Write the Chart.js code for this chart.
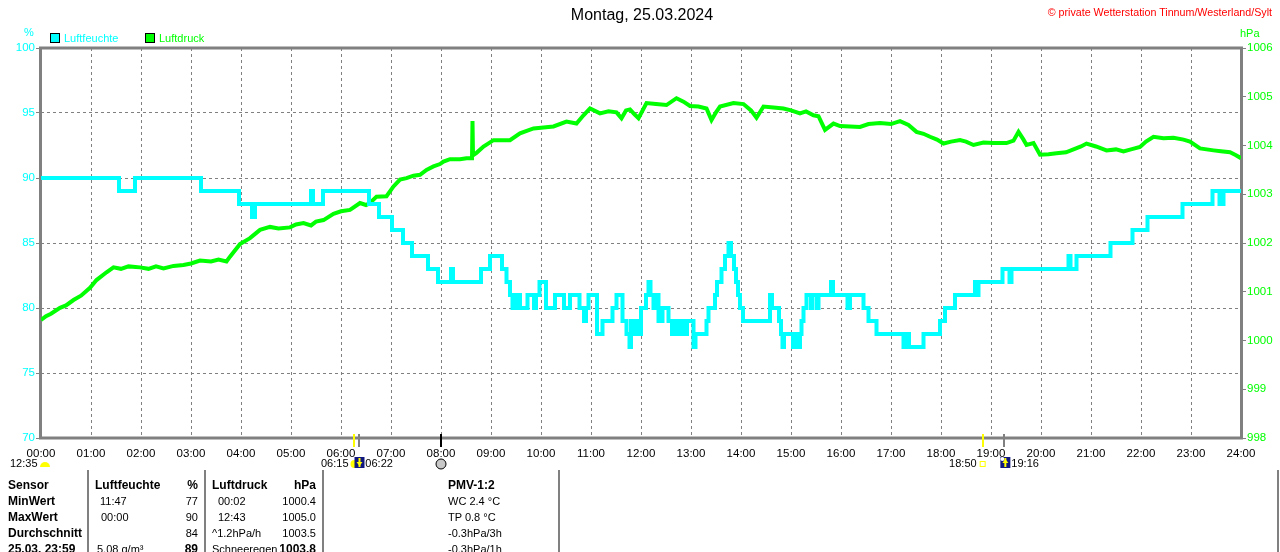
<!DOCTYPE html>
<html lang="de">
<head>
<meta charset="utf-8">
<title>Luftfeuchte / Luftdruck 25.03.2024</title>
<script src="https://cdn.jsdelivr.net/npm/chart.js@4.4.1/dist/chart.umd.min.js"></script>
<style>
    html, body { margin: 0; padding: 0; background: #fff; }
    body { width: 1280px; height: 552px; position: relative; overflow: hidden;
           font-family: "Liberation Sans", Arial, sans-serif; font-size: 11px; color: #000; }
    #chart { position: absolute; left: 0; top: 0; }
    .t { position: absolute; white-space: nowrap; line-height: 14px; }
    .b { font-weight: bold; font-size: 12px; }
    .box { position: absolute; width: 8px; height: 8px; border: 1px solid #000; }
    .vl { position: absolute; width: 2px; background: #808080; top: 470px; height: 82px; }
</style>
</head>
<body>
<canvas id="chart" width="1280" height="552"></canvas>

<!-- Kopfzeile -->
<div class="t" style="left:0;width:1284px;text-align:center;top:6px;font-size:16px;line-height:18px;">Montag, 25.03.2024</div>
<div class="t" style="right:8px;top:5px;color:#ff0000;font-size:10.7px;">© private Wetterstation Tinnum/Westerland/Sylt</div>
<div class="t" style="left:24px;top:25px;color:#00ffff;">%</div>
<div class="t" style="left:1240px;top:26px;color:#00ff00;">hPa</div>
<div class="box" style="left:50px;top:33px;background:#00ffff;"></div>
<div class="t" style="left:64px;top:31px;color:#00ffff;">Luftfeuchte</div>
<div class="box" style="left:145px;top:33px;background:#00ff00;"></div>
<div class="t" style="left:159px;top:31px;color:#00ff00;">Luftdruck</div>

<!-- Tabelle -->
<div class="vl" style="left:87px;"></div>
<div class="vl" style="left:204px;"></div>
<div class="vl" style="left:322px;"></div>
<div class="vl" style="left:558px;"></div>
<div class="vl" style="left:1277px;"></div>
<div id="table"></div>

<script>
// Zeitachse (Stunden) und Beschriftung
const hourTicks = Array.from({ length: 25 }, (_, i) => i);
const hourLabels = hourTicks.map(h => String(h).padStart(2, '0') + ':00');

// Luftfeuchte in % (Zeitpunkt der Änderung in Stunden, neuer Wert)
const humTime = [0, 1.56, 1.88, 3.2, 3.96, 4.22, 4.28, 5.40, 5.44, 5.64, 6.56, 6.76, 7.02, 7.24, 7.42, 7.74, 7.94,
    8.20, 8.24, 8.80, 8.98, 9.22, 9.31, 9.38, 9.43, 9.50, 9.58, 9.73, 9.86, 9.90, 9.97, 10.10, 10.28, 10.46,
    10.58, 10.77, 10.86, 10.90, 10.95, 11.12, 11.23, 11.43, 11.51, 11.63, 11.71, 11.77, 11.80, 11.86, 11.91,
    11.96, 12.00, 12.10, 12.15, 12.19, 12.25, 12.33, 12.35, 12.43, 12.55, 12.62, 12.68, 12.74, 12.80, 12.86,
    12.92, 13.05, 13.09, 13.31, 13.35, 13.48, 13.52, 13.61, 13.68, 13.75, 13.80, 13.86, 13.90, 13.94, 13.98,
    14.04, 14.58, 14.62, 14.76, 14.80, 14.83, 14.86, 15.04, 15.08, 15.12, 15.18, 15.21, 15.25, 15.31, 15.40,
    15.43, 15.52, 15.55, 15.80, 15.84, 16.13, 16.18, 16.45, 16.55, 16.71, 17.25, 17.32, 17.36, 17.65, 17.98,
    18.08, 18.28, 18.68, 18.72, 18.75, 19.23, 19.37, 19.41, 20.55, 20.59, 20.71, 21.39, 21.83, 22.13, 22.83,
    23.43, 23.57, 23.65, 24.0];
const humValue = [90, 89, 90, 89, 88, 87, 88, 89, 88, 89, 88, 87, 86, 85, 84, 83, 82,
    83, 82, 83, 84, 83, 82, 81, 80, 81, 80, 81, 80, 81, 82, 80, 81, 80,
    81, 80, 79, 80, 81, 78, 79, 80, 81, 79, 78, 77, 79, 78, 79,
    78, 80, 81, 82, 81, 80, 81, 79, 80, 79, 78, 79, 78, 79, 78,
    79, 77, 78, 79, 80, 81, 82, 83, 84, 85, 84, 83, 82, 81, 80,
    79, 81, 80, 79, 78, 77, 78, 77, 78, 77, 78, 79, 80, 81, 80,
    81, 80, 81, 82, 81, 80, 81, 80, 79, 78, 77, 78, 77, 78, 79,
    80, 81, 82, 81, 82, 83, 82, 83, 84, 83, 84, 85, 86, 87, 88,
    89, 88, 89, 89];

// Luftdruck in hPa
const presTime = [0.00, 0.10, 0.20, 0.38, 0.50, 0.65, 0.80, 0.98, 1.11, 1.31, 1.45, 1.60, 1.75, 1.98, 2.15, 2.30,
    2.45, 2.65, 2.85, 3.00, 3.18, 3.40, 3.55, 3.71, 3.78, 3.98, 4.18, 4.38, 4.58, 4.75, 4.98, 5.10, 5.25, 5.40,
    5.50, 5.65, 5.85, 6.00, 6.18, 6.38, 6.50, 6.58, 6.71, 6.91, 7.05, 7.18, 7.31, 7.45, 7.58, 7.71, 7.85, 7.98,
    8.05, 8.18, 8.38, 8.51, 8.62, 8.63, 8.64, 8.71, 8.85, 9.05, 9.38, 9.58, 9.85, 10.05, 10.25, 10.51, 10.71,
    10.85, 10.98, 11.18, 11.35, 11.51, 11.61, 11.70, 11.78, 11.87, 11.95, 12.11, 12.30, 12.51, 12.71, 12.85,
    12.98, 13.15, 13.31, 13.41, 13.50, 13.58, 13.85, 14.05, 14.20, 14.31, 14.45, 14.65, 14.85, 15.00, 15.18,
    15.30, 15.45, 15.55, 15.68, 15.85, 15.98, 16.18, 16.38, 16.55, 16.78, 17.00, 17.18, 17.35, 17.51, 17.65,
    17.78, 17.92, 18.05, 18.20, 18.38, 18.50, 18.65, 18.85, 19.05, 19.31, 19.45, 19.55, 19.65, 19.71, 19.85,
    19.98, 20.15, 20.31, 20.50, 20.65, 20.80, 20.91, 21.10, 21.31, 21.50, 21.65, 21.80, 21.98, 22.10, 22.25,
    22.45, 22.65, 22.85, 22.98, 23.18, 23.45, 23.60, 23.78, 23.90, 24.00];
const presValue = [1000.42, 1000.50, 1000.55, 1000.67, 1000.72, 1000.83, 1000.92, 1001.08, 1001.24, 1001.40,
    1001.50, 1001.47, 1001.52, 1001.50, 1001.47, 1001.52, 1001.48, 1001.53, 1001.55, 1001.58, 1001.64, 1001.62,
    1001.66, 1001.62, 1001.72, 1001.98, 1002.10, 1002.27, 1002.33, 1002.30, 1002.32, 1002.38, 1002.41, 1002.36,
    1002.44, 1002.47, 1002.60, 1002.65, 1002.68, 1002.82, 1002.78, 1002.82, 1002.95, 1002.96, 1003.16, 1003.30,
    1003.33, 1003.38, 1003.40, 1003.50, 1003.57, 1003.62, 1003.67, 1003.72, 1003.72, 1003.74, 1003.74, 1004.50,
    1003.80, 1003.85, 1003.98, 1004.11, 1004.11, 1004.25, 1004.35, 1004.37, 1004.39, 1004.49, 1004.45, 1004.62,
    1004.76, 1004.66, 1004.70, 1004.68, 1004.56, 1004.72, 1004.74, 1004.64, 1004.56, 1004.87, 1004.85, 1004.83,
    1004.97, 1004.90, 1004.81, 1004.80, 1004.76, 1004.52, 1004.68, 1004.80, 1004.87, 1004.85, 1004.72, 1004.57,
    1004.80, 1004.78, 1004.76, 1004.72, 1004.66, 1004.70, 1004.62, 1004.60, 1004.32, 1004.45, 1004.40, 1004.39,
    1004.38, 1004.44, 1004.46, 1004.44, 1004.50, 1004.42, 1004.28, 1004.24, 1004.18, 1004.12, 1004.04, 1004.08,
    1004.11, 1004.08, 1004.01, 1004.06, 1004.05, 1004.05, 1004.10, 1004.28, 1004.12, 1004.01, 1004.05, 1003.81,
    1003.82, 1003.84, 1003.86, 1003.92, 1003.98, 1004.04, 1003.98, 1003.90, 1003.92, 1003.88, 1003.92, 1003.97,
    1004.08, 1004.18, 1004.15, 1004.16, 1004.12, 1004.08, 1003.94, 1003.90, 1003.88, 1003.86, 1003.80, 1003.74];

// Sonne / Mond Zeiten (Stunden) und Beschriftungen
const astroTime = [6.25, 6.367, 8.0, 18.833, 19.267];
const astroLabel = ['06:15', '06:22', '', '18:50', '19:16'];
const moonLabel = '12:35';

// Tabelle unten: [Text, x, Zeile, rechtsbündig, fett]
const tableCells = [
    ['Sensor', 8, 0, false, true], ['MinWert', 8, 1, false, true], ['MaxWert', 8, 2, false, true],
    ['Durchschnitt', 8, 3, false, true], ['25.03. 23:59', 8, 4, false, true],
    ['Luftfeuchte', 95, 0, false, true], ['%', 198, 0, true, true],
    ['11:47', 100, 1, false, false], ['77', 198, 1, true, false],
    ['00:00', 101, 2, false, false], ['90', 198, 2, true, false],
    ['84', 198, 3, true, false],
    ['5.08 g/m³', 97, 4, false, false], ['89', 198, 4, true, true],
    ['Luftdruck', 212, 0, false, true], ['hPa', 316, 0, true, true],
    ['00:02', 218, 1, false, false], ['1000.4', 316, 1, true, false],
    ['12:43', 218, 2, false, false], ['1005.0', 316, 2, true, false],
    ['^1.2hPa/h', 212, 3, false, false], ['1003.5', 316, 3, true, false],
    ['Schneeregen', 212, 4, false, false], ['1003.8', 316, 4, true, true],
    ['PMV-1:2', 448, 0, false, true], ['WC 2.4 °C', 448, 1, false, false],
    ['TP 0.8 °C', 448, 2, false, false], ['-0.3hPa/3h', 448, 3, false, false],
    ['-0.3hPa/1h', 448, 4, false, false]
];
const rowCenter = [485, 501, 517, 533, 549];

function buildTable() {
    const host = document.getElementById('table');
    tableCells.forEach(([text, x, row, right, bold]) => {
        const d = document.createElement('div');
        d.className = 't' + (bold ? ' b' : '');
        d.textContent = text;
        d.style.top = (rowCenter[row] - 7) + 'px';
        if (right) d.style.right = (1280 - x) + 'px';
        else d.style.left = x + 'px';
        host.appendChild(d);
    });
}

// Rahmen um die Zeichenfläche
const framePlugin = {
    id: 'frame',
    beforeDatasetsDraw(chart) {
        const { ctx, chartArea: a } = chart;
        ctx.save();
        ctx.strokeStyle = '#808080';
        ctx.lineWidth = 3;
        ctx.strokeRect(a.left - 0.5, a.top, a.right - a.left + 1, a.bottom - a.top);
        ctx.restore();
    }
};

function nightSquare(ctx, x, y, up, dot) {
    ctx.fillStyle = '#101880';
    ctx.fillRect(x, y, 10, 11);
    if (dot) {
        ctx.fillStyle = '#ffffff';
        ctx.beginPath(); ctx.arc(x + 2, y + 2, 2, 0, Math.PI * 2); ctx.fill();
    }
    ctx.strokeStyle = '#ffff00';
    ctx.fillStyle = '#ffff00';
    ctx.lineWidth = 2;
    ctx.beginPath(); ctx.moveTo(x + 5, y + 1); ctx.lineTo(x + 5, y + 10); ctx.stroke();
    ctx.beginPath();
    if (up) { ctx.moveTo(x + 2, y + 6); ctx.lineTo(x + 8, y + 6); ctx.lineTo(x + 5, y + 2); }
    else { ctx.moveTo(x + 2, y + 5); ctx.lineTo(x + 8, y + 5); ctx.lineTo(x + 5, y + 9); }
    ctx.fill();
}

// Sonnen- und Mondmarken unter der Zeitachse
const astroPlugin = {
    id: 'astro',
    afterDraw(chart) {
        const { ctx } = chart;
        const xs = chart.scales.x;
        const px = astroTime.map(t => xs.getPixelForValue(t));
        const colors = ['#ffff00', '#808080', '#000000', '#ffff00', '#808080'];
        ctx.save();
        px.forEach((x, i) => {
            ctx.strokeStyle = colors[i];
            ctx.lineWidth = 2;
            ctx.beginPath(); ctx.moveTo(Math.round(x), 434); ctx.lineTo(Math.round(x), 447); ctx.stroke();
        });

        ctx.font = '11px "Liberation Sans", Arial, sans-serif';
        ctx.fillStyle = '#000';
        ctx.textBaseline = 'middle';
        ctx.textAlign = 'left';
        ctx.fillText(moonLabel, 10, 464);
        ctx.fillText(astroLabel[1], px[1] + 6, 464);
        ctx.fillText(astroLabel[4], px[4] + 7, 464);
        ctx.textAlign = 'right';
        ctx.fillText(astroLabel[0], px[0] - 5, 464);
        ctx.fillText(astroLabel[3], px[3] - 6, 464);

        // Mond halb (links)
        ctx.fillStyle = '#ffff00';
        ctx.beginPath(); ctx.arc(45, 467, 5, Math.PI, 0); ctx.closePath(); ctx.fill();

        // Sonne und Nachtsymbol morgens
        ctx.beginPath(); ctx.arc(px[0] + 1, 464, 4, 0, Math.PI * 2); ctx.fill();
        nightSquare(ctx, px[0] + 1, 457, false, false);

        // Vollmond 08:00
        ctx.fillStyle = '#c8c8c8';
        ctx.strokeStyle = '#000';
        ctx.lineWidth = 1;
        ctx.beginPath(); ctx.arc(px[2], 464, 5, 0, Math.PI * 2); ctx.fill(); ctx.stroke();

        // Abend
        ctx.strokeStyle = '#ffff00';
        ctx.strokeRect(px[3] - 2.5, 461.5, 5, 5);
        nightSquare(ctx, px[4] - 4, 457, true, true);
        ctx.restore();
    }
};

function initializeChart() {
    const ctx = document.getElementById('chart').getContext('2d');
    const tickFont = { family: '"Liberation Sans", Arial, sans-serif', size: 11.5 };
    new Chart(ctx, {
        type: 'line',
        data: {
            datasets: [{
                label: 'Luftfeuchte',
                data: humTime.map((t, i) => ({ x: t, y: humValue[i] })),
                borderColor: '#00ffff',
                borderWidth: 4,
                stepped: true,
                pointRadius: 0,
                yAxisID: 'y'
            }, {
                label: 'Luftdruck',
                data: presTime.map((t, i) => ({ x: t, y: presValue[i] })),
                borderColor: '#00ff00',
                borderWidth: 4,
                pointRadius: 0,
                tension: 0,
                yAxisID: 'y2'
            }]
        },
        options: {
            responsive: false,
            animation: false,
            events: [],
            layout: { padding: { left: 0, right: 0, top: 48, bottom: 84 } },
            plugins: {
                legend: { display: false },
                tooltip: { enabled: false }
            },
            scales: {
                x: {
                    type: 'linear',
                    min: 0,
                    max: 24,
                    afterBuildTicks: s => { s.ticks = hourTicks.map(v => ({ value: v })); },
                    afterFit: s => { s.height = 30; },
                    ticks: {
                        callback: v => hourLabels[v],
                        color: '#000',
                        font: tickFont,
                        maxRotation: 0,
                        autoSkip: false,
                        padding: 9
                    },
                    grid: { color: '#808080', lineWidth: 1, drawTicks: false },
                    border: { display: false, dash: [3, 3] }
                },
                y: {
                    position: 'left',
                    min: 70,
                    max: 100,
                    afterFit: s => { s.width = 41; },
                    ticks: { stepSize: 5, color: '#00ffff', font: tickFont, padding: 1, callback: v => String(v) },
                    grid: { color: '#808080', lineWidth: 1, tickLength: 5, tickColor: '#808080' },
                    border: { display: false, dash: [3, 3] }
                },
                y2: {
                    position: 'right',
                    min: 998,
                    max: 1006,
                    afterFit: s => { s.width = 39; },
                    ticks: { stepSize: 1, color: '#00ff00', font: tickFont, padding: 1, callback: v => String(v) },
                    grid: { drawOnChartArea: false, tickLength: 5, tickColor: '#808080', lineWidth: 1 },
                    border: { display: false }
                }
            }
        },
        plugins: [framePlugin, astroPlugin]
    });
}

buildTable();
initializeChart();
</script>
</body>
</html>
